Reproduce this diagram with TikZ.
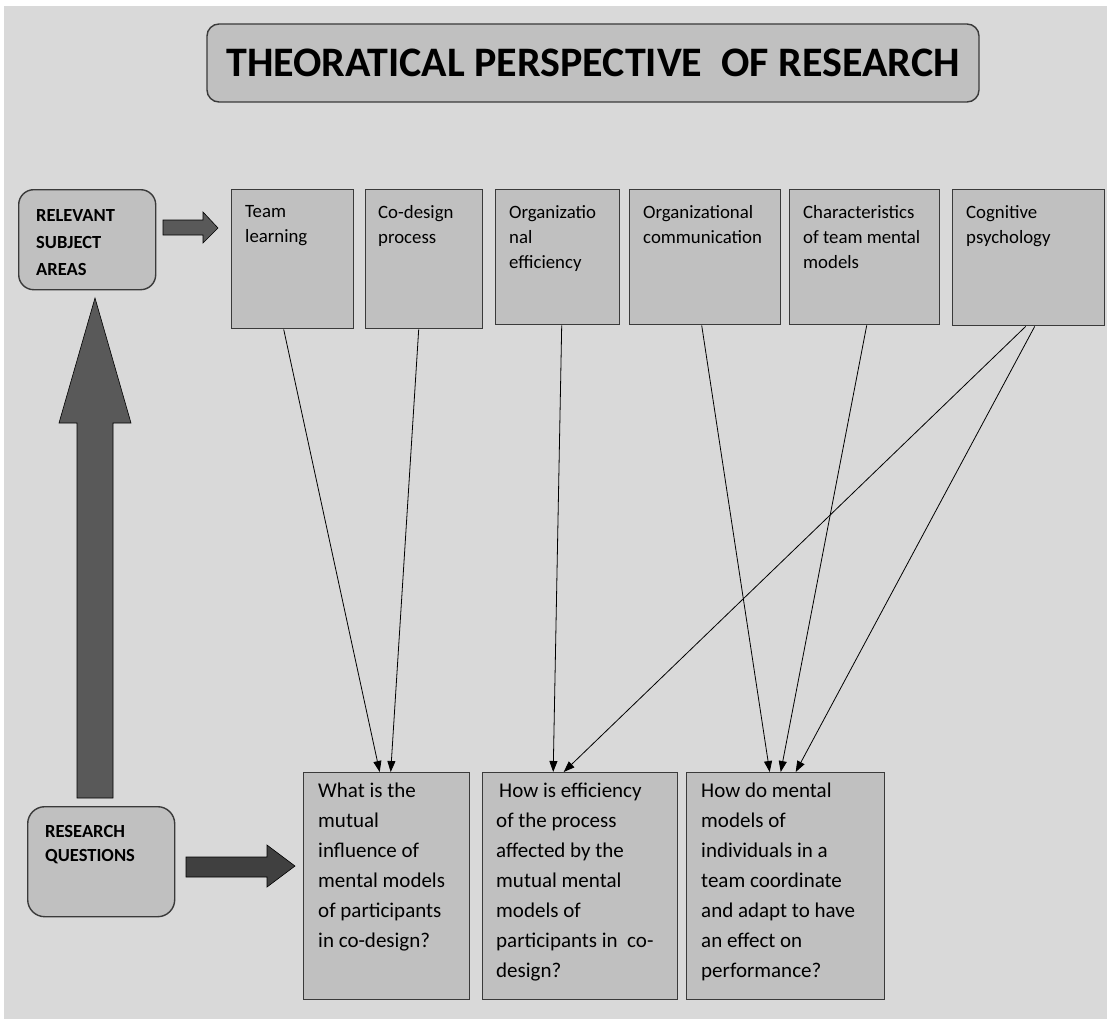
\documentclass[tikz,border=0pt]{standalone}
\usepackage{fontspec}
\setmainfont{Carlito}
\usetikzlibrary{arrows.meta,positioning}

\definecolor{bggray}{HTML}{D9D9D9}
\definecolor{boxgray}{HTML}{C0C0C0}
\definecolor{edgegray}{HTML}{3A3A3A}
\definecolor{arrowgray}{HTML}{595959}
\definecolor{darkarrow}{HTML}{404040}

\tikzset{
  topbox/.style={draw=edgegray, line width=1.4pt, fill=boxgray, anchor=north west, inner sep=0pt},
  roundbox/.style={draw=edgegray, line width=1.4pt, fill=boxgray, rounded corners=15pt, anchor=north west, inner sep=0pt},
  toptext/.style={anchor=north west, inner sep=0pt, align=left, font=\fontsize{18.8}{25}\selectfont},
  qtext/.style={anchor=north west, inner sep=0pt, align=left, font=\fontsize{21}{30}\selectfont},
  areatext/.style={anchor=north west, inner sep=0pt, align=left, font=\bfseries\fontsize{18.5}{27}\selectfont},
  blockarrow/.style={draw=black, line width=0.6pt},
  link/.style={-{Triangle[length=11pt,width=8pt]}, line width=0.8pt}
}

\begin{document}
\begin{tikzpicture}[x=1pt, y=-1pt]
\useasboundingbox (0,0) rectangle (1107,1019);
\fill[white] (0,0) rectangle (1107,1019);
\fill[bggray] (4,6) rectangle (1107,1019);

\node[roundbox, rounded corners=12pt, anchor=center, minimum width=772pt, minimum height=78pt,
  font=\bfseries\fontsize{42}{42}\selectfont] (title) at (593,63) {THEORATICAL PERSPECTIVE\ \ OF RESEARCH};

\node[roundbox, minimum width=137pt, minimum height=100pt] (relevant) at (18,189) {};
\node[areatext] (relevanttxt) at ([xshift=18pt,yshift=-20pt]relevant.north west) {RELEVANT\\SUBJECT\\AREAS};
\node[roundbox, rounded corners=17pt, minimum width=147pt, minimum height=110pt] (research) at (27,806) {};
\node[areatext, font=\bfseries\fontsize{18.5}{24}\selectfont] (researchtxt) at ([xshift=18pt,yshift=-19pt]research.north west) {RESEARCH\\QUESTIONS};

\node[topbox, minimum width=122pt, minimum height=139pt] (team) at (231,189) {};
\node[topbox, minimum width=117pt, minimum height=139pt] (codesign) at (365,189) {};
\node[topbox, minimum width=124pt, minimum height=135pt] (orgeff) at (495,189) {};
\node[topbox, minimum width=151pt, minimum height=135pt] (orgcomm) at (629,189) {};
\node[topbox, minimum width=150pt, minimum height=135pt] (charact) at (789,189) {};
\node[topbox, minimum width=152pt, minimum height=136pt] (cognitive) at (952,189) {};

\node[toptext] (teamtxt) at ([xshift=14pt,yshift=-16pt]team.north west) {Team\\learning};
\node[toptext] (codesigntxt) at ([xshift=13pt,yshift=-16pt]codesign.north west) {Co-design\\process};
\node[toptext] (orgefftxt) at ([xshift=14pt,yshift=-16pt]orgeff.north west) {Organizatio\\nal\\efficiency};
\node[toptext] (orgcommtxt) at ([xshift=14pt,yshift=-16pt]orgcomm.north west) {Organizational\\communication};
\node[toptext] (characttxt) at ([xshift=14pt,yshift=-16pt]charact.north west) {Characteristics\\of team mental\\models};
\node[toptext] (cognitivetxt) at ([xshift=14pt,yshift=-16pt]cognitive.north west) {Cognitive\\psychology};

\node[topbox, minimum width=166pt, minimum height=227pt] (qone) at (303,772) {};
\node[topbox, minimum width=195pt, minimum height=227pt] (qtwo) at (482,772) {};
\node[topbox, minimum width=198pt, minimum height=227pt] (qthree) at (686,772) {};

\node[qtext] (qonetxt) at ([xshift=15pt,yshift=-11pt]qone.north west)
  {What is the\\mutual\\influence of\\mental models\\of participants\\in co-design?};
\node[qtext] (qtwotxt) at ([xshift=14pt,yshift=-11pt]qtwo.north west)
  {\hspace*{3pt}How is efficiency\\of the process\\affected by the\\mutual mental\\models of\\participants in\ \ co-\\design?};
\node[qtext] (qthreetxt) at ([xshift=15pt,yshift=-11pt]qthree.north west)
  {How do mental\\models of\\individuals in a\\team coordinate\\and adapt to have\\an effect on\\performance?};

\filldraw[blockarrow, fill=arrowgray] (163,220) -- (203,220) -- (203,212) -- (218,228) -- (203,243) -- (203,235) -- (163,235) -- cycle;
\filldraw[blockarrow, fill=arrowgray] (77,798) -- (77,423) -- (59,423) -- (95,298) -- (131,423) -- (113,423) -- (113,798) -- cycle;
\filldraw[blockarrow, fill=darkarrow] (186,857) -- (267,857) -- (267,845) -- (295,866) -- (267,887) -- (267,877) -- (186,877) -- cycle;

\draw[link] ([xshift=-9pt]team.south) -- ([xshift=-7pt]qone.north);
\draw[link] ([xshift=-5.5pt]codesign.south) -- ([xshift=4pt]qone.north);
\draw[link] ([xshift=4pt]orgeff.south) -- ([xshift=-27pt]qtwo.north);
\draw[link] ([xshift=-3pt]cognitive.south) -- ([xshift=-16.5pt]qtwo.north);
\draw[link] ([xshift=-3.5pt]orgcomm.south) -- ([xshift=-16pt]qthree.north);
\draw[link] ([xshift=2pt]charact.south) -- ([xshift=-5pt]qthree.north);
\draw[link] ([xshift=6pt]cognitive.south) -- ([xshift=10pt]qthree.north);
\end{tikzpicture}
\end{document}
